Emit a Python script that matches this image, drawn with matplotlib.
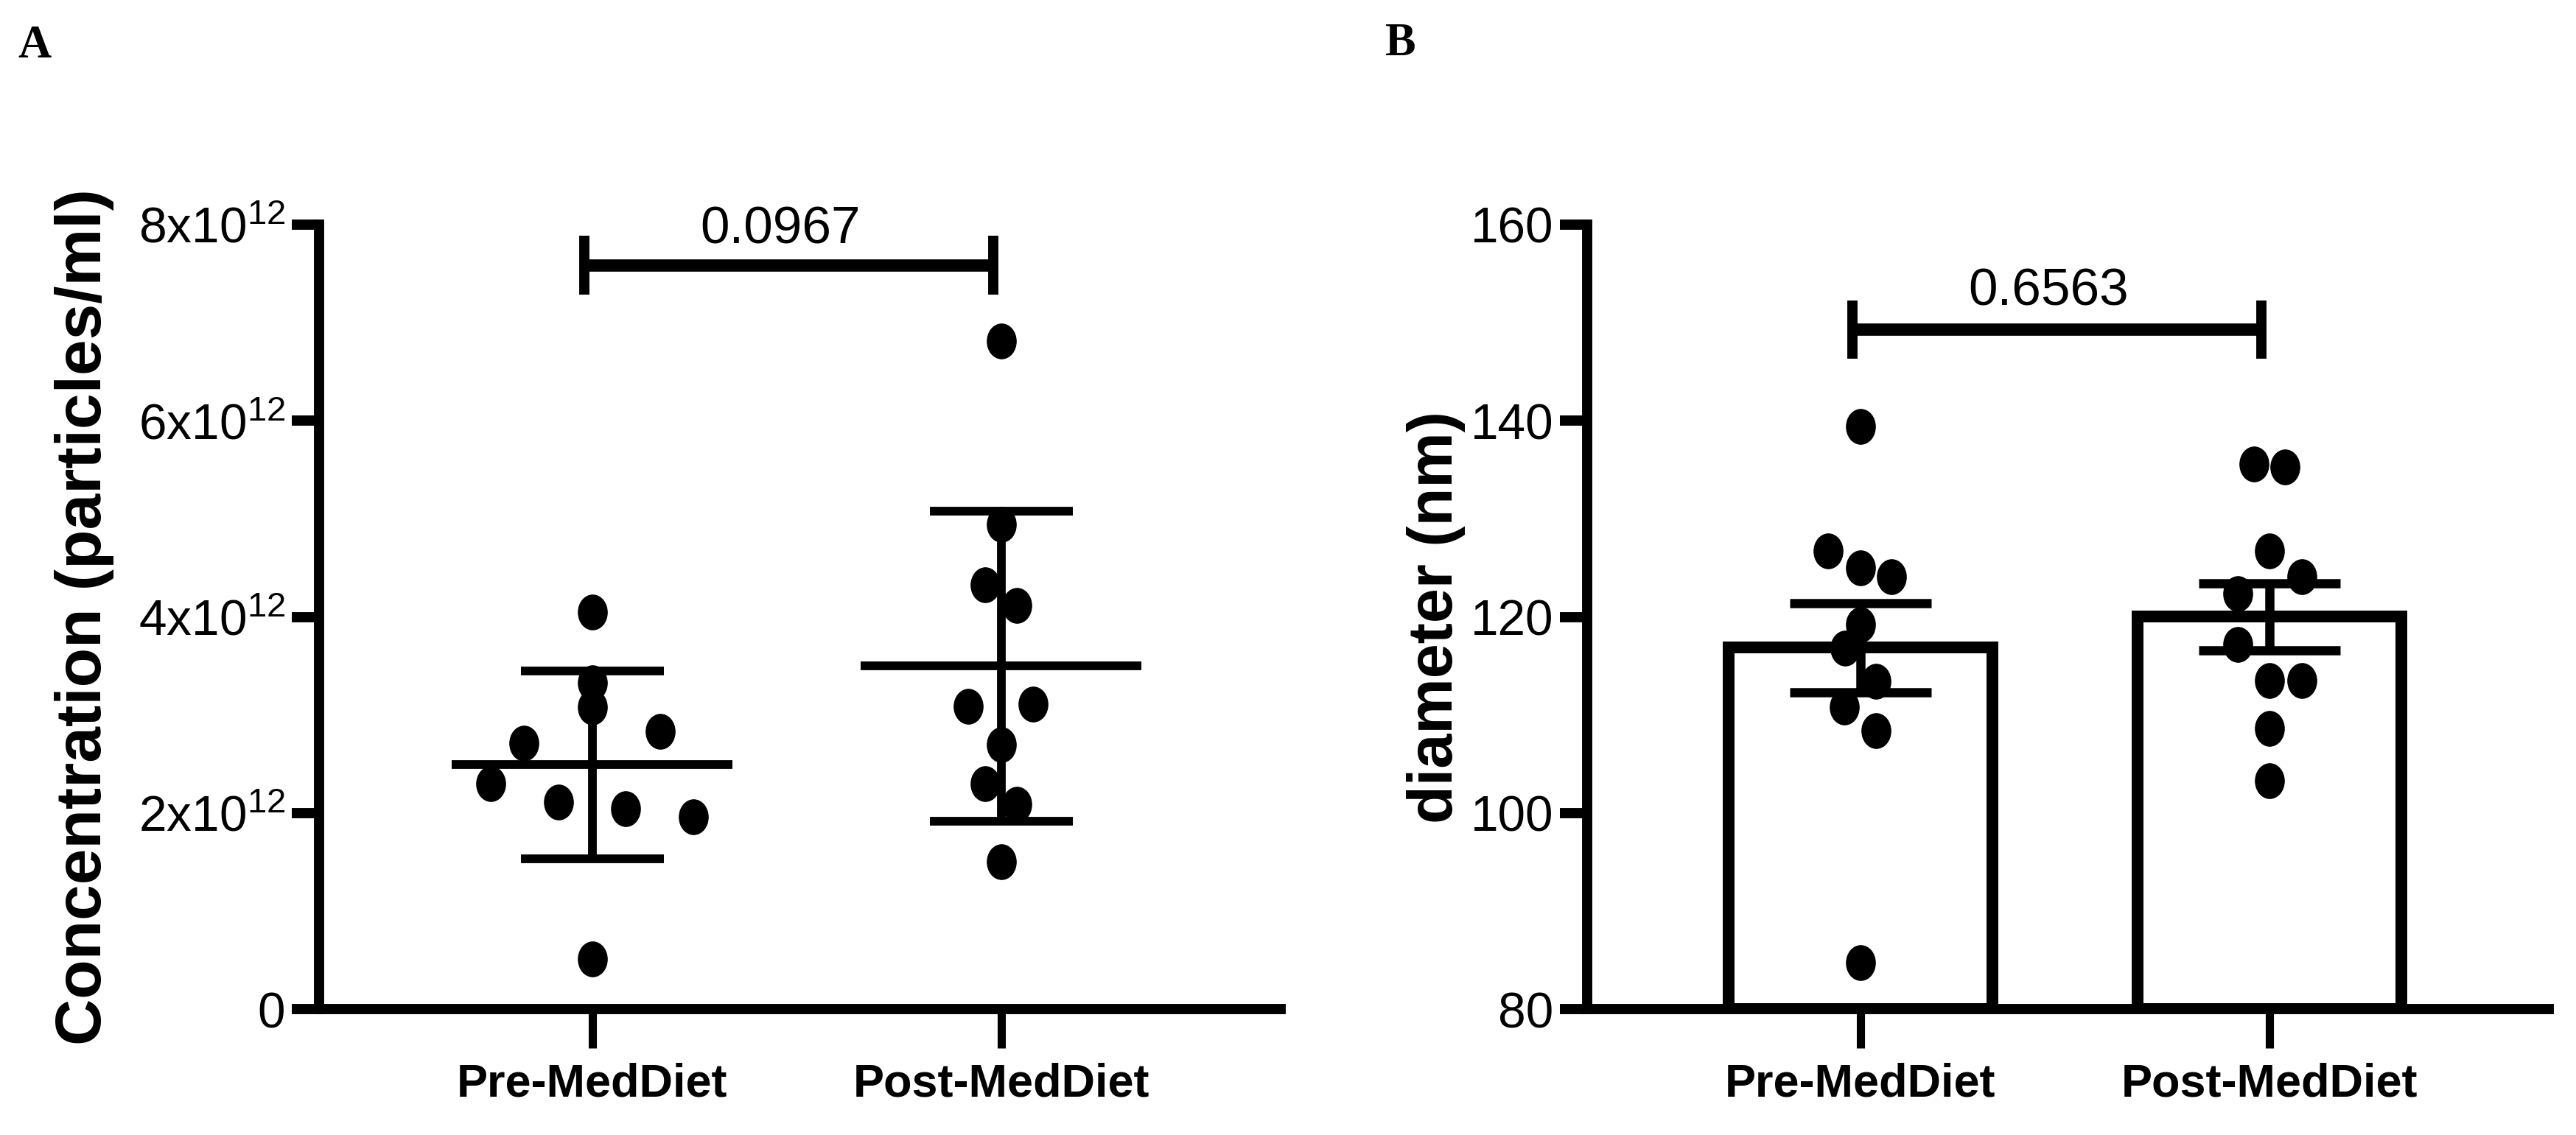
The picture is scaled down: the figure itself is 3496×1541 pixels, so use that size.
import numpy as np
import matplotlib
matplotlib.use("Agg")
import matplotlib.pyplot as plt
from matplotlib.path import Path
from matplotlib import font_manager as fm

# ---------------- data ----------------
groups = ["Pre-MedDiet", "Post-MedDiet"]
# particle concentration, in units of 10^12 particles/ml
conc_pre = [4.05, 3.33, 3.08, 2.83, 2.71, 2.30, 2.11, 2.04, 1.96, 0.51]
conc_post = [6.81, 4.94, 4.33, 4.12, 3.11, 3.09, 2.70, 2.30, 2.09, 1.50]
# particle diameter, nm
diam_pre = [139.4, 126.7, 125.0, 124.1, 119.2, 116.8, 113.4, 110.8, 108.4, 84.7]
diam_post = [135.6, 135.3, 126.7, 124.1, 122.4, 117.2, 113.5, 113.5, 108.6, 103.3]
p_conc = "0.0967"
p_diam = "0.6563"
conc_ticks = [0, 2, 4, 6, 8]          # x10^12
diam_ticks = [80, 100, 120, 140, 160]
ylabel_a = "Concentration (particles/ml)"
ylabel_b = "diameter (nm)"

# horizontal scatter offsets (layout only, category units)
jit_conc_pre = [0, 0, 0, 0.166, -0.168, -0.249, -0.083, 0.082, 0.248, 0]
jit_conc_post = [0, 0, -0.039, 0.038, 0.077, -0.080, 0, -0.039, 0.038, 0]
jit_diam_pre = [0, -0.078, 0, 0.076, 0, -0.038, 0.038, -0.040, 0.038, 0]
jit_diam_post = [-0.038, 0.038, 0, 0.079, -0.077, -0.077, 0, 0.079, 0, 0]

# ---------------- fonts ----------------
names = {f.name for f in fm.fontManager.ttflist}
has_narrow = "Liberation Sans Narrow" in names
TF = "Liberation Sans Narrow" if has_narrow else "Liberation Sans"
k = 1.0 if has_narrow else 0.84
plt.rcParams["mathtext.fontset"] = "custom"
plt.rcParams["mathtext.rm"] = TF
plt.rcParams["mathtext.it"] = TF
plt.rcParams["mathtext.bf"] = TF
plt.rcParams["mathtext.default"] = "regular"
plt.rcParams["font.family"] = [TF, "DejaVu Sans"]

W, H = 3496, 1541
DPI = 100
fig = plt.figure(figsize=(W / DPI, H / DPI), dpi=DPI)
fig.patch.set_facecolor("white")

# ellipse marker (source image is slightly stretched vertically)
circ = Path.unit_circle()
ell = Path(circ.vertices * np.array([0.83, 1.0]), circ.codes)
MS = 34

LW_AX = 10
XMIN, XMAX = -0.668, 1.683


def style_axes(ax, ylim, ticks, ticklabels):
    ax.set_xlim(XMIN, XMAX)
    ax.set_ylim(*ylim)
    for s in ["top", "right"]:
        ax.spines[s].set_visible(False)
    for s in ["left", "bottom"]:
        ax.spines[s].set_linewidth(LW_AX)
        ax.spines[s].set_capstyle("projecting")
    ax.set_xticks([0, 1])
    ax.set_xticklabels(groups, fontsize=54 * k, fontweight="bold", family=TF)
    ax.set_yticks(ticks)
    ax.set_yticklabels(ticklabels, fontsize=58 * k, family=TF)
    ax.tick_params(axis="y", length=27, width=10, pad=6, direction="out")
    ax.tick_params(axis="x", length=38, width=8, pad=14, direction="out")
    ax.patch.set_alpha(0)


def bracket(ax, y, h, text, ty):
    x0, x1 = -0.02, 0.98
    ax.hlines(y, x0, x1, color="black", lw=12, zorder=5)
    ax.vlines([x0, x1], y - h, y + h, color="black", lw=10, zorder=5)
    ax.text(0.46, ty, text, ha="center", va="baseline",
            fontsize=61 * k, family=TF, zorder=6)


# ---------------- panel A ----------------
axA = fig.add_axes([433 / W, 1 - 1370 / H, 1305 / W, (1370 - 305) / H])
scale = 1e12
for i, (vals, jit) in enumerate([(conc_pre, jit_conc_pre), (conc_post, jit_conc_post)]):
    v = np.array(vals) * scale
    axA.plot(i + np.array(jit), v, linestyle="none", marker=ell, markersize=MS,
             color="black", zorder=3, clip_on=False)
    m = v.mean()
    sd = v.std(ddof=1)
    axA.hlines(m, i - 0.343, i + 0.343, color="black", lw=8.5, zorder=4)
    axA.errorbar(i, m, yerr=sd, fmt="none", ecolor="black", elinewidth=8.5,
                 capsize=70, capthick=8.5, zorder=4)

ticklabels_a = ["0"] + [f"{t}x10$^{{12}}$" for t in conc_ticks[1:]]
style_axes(axA, (0, 8 * scale), [t * scale for t in conc_ticks], ticklabels_a)
bracket(axA, 7.59 * scale, 0.30 * scale, p_conc, 7.81 * scale)
axA.set_ylabel(ylabel_a, fontsize=63, fontweight="bold", family="Liberation Sans",
               va="center")
axA.yaxis.set_label_coords(-0.2444, 0.5)

# ---------------- panel B ----------------
axB = fig.add_axes([2154 / W, 1 - 1370 / H, 1305 / W, (1370 - 305) / H])
y0 = diam_ticks[0]
for i, (vals, jit) in enumerate([(diam_pre, jit_diam_pre), (diam_post, jit_diam_post)]):
    v = np.array(vals)
    m = v.mean()
    sem = v.std(ddof=1) / np.sqrt(len(v))
    axB.bar(i, m - y0, bottom=y0, width=0.645, facecolor="white",
            edgecolor="black", linewidth=11.5, zorder=2, joinstyle="miter")
    axB.plot(i + np.array(jit), v, linestyle="none", marker=ell, markersize=MS,
             color="black", zorder=4, clip_on=False)
    axB.errorbar(i, m, yerr=sem, fmt="none", ecolor="black", elinewidth=9,
                 capsize=69, capthick=9, zorder=3)

style_axes(axB, (diam_ticks[0], diam_ticks[-1]), diam_ticks, [str(t) for t in diam_ticks])
bracket(axB, 149.3, 3.0, p_diam, 151.8)
axB.set_ylabel(ylabel_b, fontsize=61, fontweight="bold", family="Liberation Sans",
               va="center")
axB.yaxis.set_label_coords(-0.157, 0.5)

# panel letters
fig.text(24.5 / W, 1 - 78 / H, "A", family="Liberation Serif", fontweight="bold",
         fontsize=45, va="baseline", ha="left")
fig.text(1880 / W, 1 - 75 / H, "B", family="Liberation Serif", fontweight="bold",
         fontsize=45, va="baseline", ha="left")

fig.savefig("out.png", dpi=DPI, facecolor="white")
